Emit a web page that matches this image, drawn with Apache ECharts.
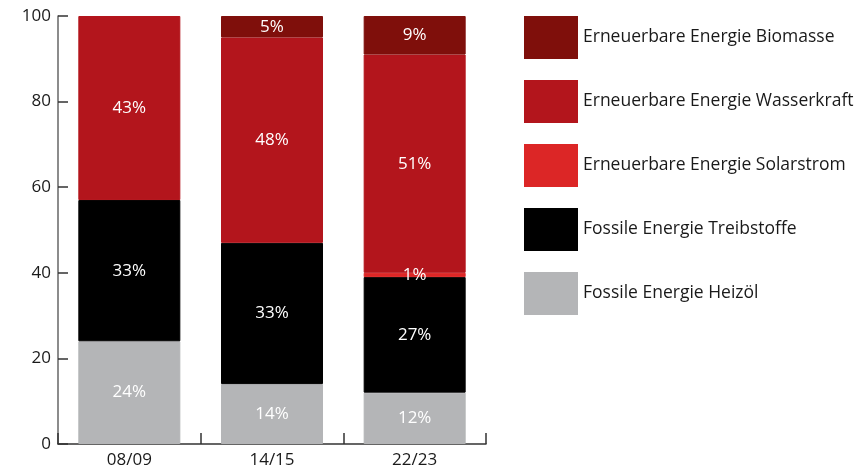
<!DOCTYPE html>
<html>
<head>
<meta charset="utf-8">
<script src="https://cdn.jsdelivr.net/npm/echarts@6/dist/echarts.min.js"></script>
<style>
  html, body { margin: 0; padding: 0; background: #fff; }
  #chart { width: 859px; height: 474px; }
</style>
</head>
<body>
<div id="chart"></div>
<script>
// Energy mix shares per period (percent)
var categories = ['08/09', '14/15', '22/23'];
var heizoel      = [24, 14, 12];
var treibstoffe  = [33, 33, 27];
var solarstrom   = [0, 0, 1];
var wasserkraft  = [43, 48, 51];
var biomasse     = [0, 5, 9];
var yTicks = [0, 20, 40, 60, 80, 100];

var names = {
  bio: 'Erneuerbare Energie Biomasse',
  wasser: 'Erneuerbare Energie Wasserkraft',
  solar: 'Erneuerbare Energie Solarstrom',
  treib: 'Fossile Energie Treibstoffe',
  heiz: 'Fossile Energie Heizöl'
};
var colors = {
  bio: '#7f0f0b',
  wasser: '#b3151c',
  solar: '#dc2626',
  treib: '#000000',
  heiz: '#b4b5b7'
};

var FONT = '"Open Sans", "Noto Sans", sans-serif';

function makeSeries(key, values) {
  return {
    name: names[key],
    type: 'bar',
    stack: 'total',
    barWidth: 102,
    // empty segments get no border so nothing is drawn for them
    data: values.map(function (v) {
      return v > 0 ? v : { value: v, itemStyle: { borderWidth: 0 } };
    }),
    // same-colour border closes the anti-aliasing seam between stacked segments
    itemStyle: { color: colors[key], borderColor: colors[key], borderWidth: 1 },
    label: {
      show: true,
      position: 'inside',
      color: '#ffffff',
      fontFamily: FONT,
      fontSize: 17,
      formatter: function (p) { return p.value > 0 ? p.value + '%' : ''; }
    },
    emphasis: { disabled: true }
  };
}

var chart = echarts.init(document.getElementById('chart'), null, { renderer: 'canvas' });
chart.setOption({
  animation: false,
  grid: { left: 58, right: 373, top: 16, bottom: 30, containLabel: false },
  legend: {
    orient: 'vertical',
    left: 524,
    top: 16,
    padding: 0,
    itemWidth: 54,
    itemHeight: 43,
    itemGap: 21,
    icon: 'rect',
    selectedMode: false,
    itemStyle: { borderWidth: 0 },
    data: [names.bio, names.wasser, names.solar, names.treib, names.heiz],
    textStyle: { fontFamily: FONT, fontSize: 17.5, color: '#1a1a1a' }
  },
  xAxis: {
    type: 'category',
    data: categories,
    axisLine: { show: true, lineStyle: { color: '#333', width: 1.5 } },
    axisTick: { show: true, inside: true, length: 11, lineStyle: { color: '#333', width: 1.5 } },
    axisLabel: { color: '#1a1a1a', fontFamily: FONT, fontSize: 17, margin: 8 }
  },
  yAxis: {
    type: 'value',
    min: 0,
    max: 100,
    interval: 20,
    axisLine: { show: true, lineStyle: { color: '#666', width: 1.5 } },
    axisTick: { show: true, inside: true, length: 10, lineStyle: { color: '#333', width: 1.5 } },
    splitLine: { show: false },
    axisLabel: {
      color: '#1a1a1a', fontFamily: FONT, fontSize: 17, margin: 7,
      formatter: function (v) { return yTicks.indexOf(v) >= 0 ? String(v) : ''; }
    }
  },
  series: [
    makeSeries('heiz', heizoel),
    makeSeries('treib', treibstoffe),
    makeSeries('solar', solarstrom),
    makeSeries('wasser', wasserkraft),
    makeSeries('bio', biomasse)
  ]
});
</script>
</body>
</html>
